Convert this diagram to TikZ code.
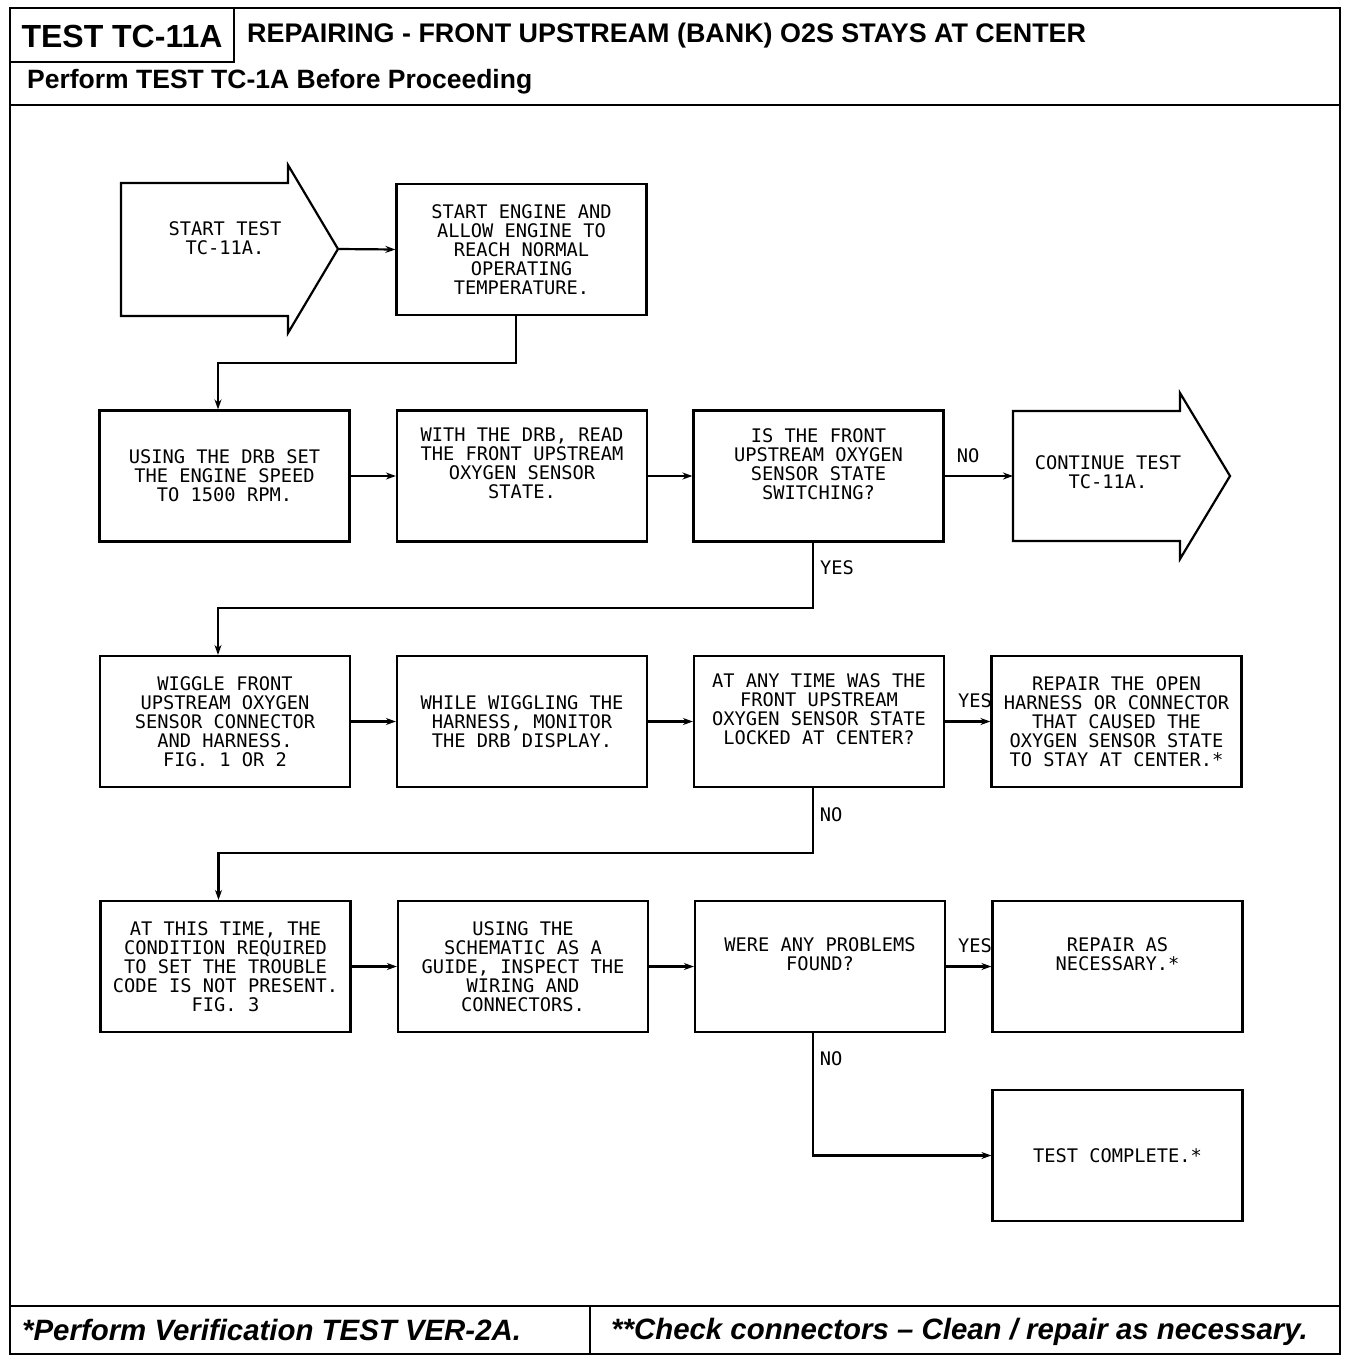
\documentclass[tikz,border=0pt]{standalone}
\usepackage{fontspec}
\setmainfont{Liberation Sans}
\newfontfamily\plotfont{DejaVu Sans Mono}
\usetikzlibrary{arrows.meta}
\begin{document}
\begin{tikzpicture}[x=1pt,y=-1pt,
  box/.style={draw, line width=2.2pt, minimum width=250pt, minimum height=131pt, inner sep=0pt, align=center, font=\plotfont\fontsize{18.7}{19}\selectfont},
  txt/.style={inner sep=0pt, align=center, font=\plotfont\fontsize{18.7}{19}\selectfont},
  lab/.style={inner sep=0pt, font=\plotfont\fontsize{18.7}{19}\selectfont},
  arr/.style={line width=2.2pt, -{Stealth[length=10pt,width=7pt]}},
  outline/.style={line width=2.2pt, line join=miter},
  frame/.style={line width=2pt},
  headbig/.style={inner sep=0pt, font=\bfseries\fontsize{32}{32}\selectfont},
  head/.style={anchor=west, inner sep=0pt, font=\bfseries\fontsize{26.9}{27}\selectfont},
  foot/.style={anchor=west, inner sep=0pt, font=\bfseries\itshape\fontsize{29.4}{30}\selectfont}]
\useasboundingbox (0,0) rectangle (1360,1364);
\fill[white] (0,0) rectangle (1360,1364);

% frame
\draw[frame] (10,8) rectangle (1340,1354);
\draw[frame] (10,105) -- (1340,105);
\draw[frame] (234,8) -- (234,62) -- (10,62);
\draw[frame] (10,1306) -- (1340,1306);
\draw[frame] (590,1306) -- (590,1354);

% headings
\node[headbig] (title) at (122,36) {TEST TC-11A};
\node[head] (heading) at (247,36) {REPAIRING - FRONT UPSTREAM (BANK) O2S STAYS AT CENTER};
\node[head, font=\bfseries\fontsize{26.5}{27}\selectfont] (pre) at (27,82) {Perform TEST TC-1A Before Proceeding};
\node[foot] (f1) at (22,1330) {*Perform Verification TEST VER-2A.};
\node[foot] (f2) at (611,1332) {**Check connectors – Clean / repair as necessary.};

% start arrow
\draw[outline] (121,183) -- (288,183) -- (288,165) -- (338,249) -- (288,333) -- (288,316) -- (121,316) -- cycle;
\coordinate (starttip) at (338,249);
\node[txt] (start) at (225,238) {START TEST\\TC-11A.};

% continue arrow
\draw[outline] (1013,411) -- (1180,411) -- (1180,393) -- (1230,476) -- (1180,559) -- (1180,541) -- (1013,541) -- cycle;
\coordinate (conttail) at (1013,476);
\node[txt] (cont) at (1108,472) {CONTINUE TEST\\TC-11A.};

% boxes
\node[box] (b1) at (521.5,249.5) {START ENGINE AND\\ALLOW ENGINE TO\\REACH NORMAL\\OPERATING\\TEMPERATURE.};

\node[box] (r2a) at (224.5,476) {USING THE DRB SET\\THE ENGINE SPEED\\TO 1500 RPM.};
\node[box] (r2b) at (522,476) {WITH THE DRB, READ\\THE FRONT UPSTREAM\\OXYGEN SENSOR\\STATE.\\\strut};
\node[box] (r2c) at (818.5,476) {IS THE FRONT\\UPSTREAM OXYGEN\\SENSOR STATE\\SWITCHING?\\\strut};

\node[box] (r3a) at (225,721.5) {WIGGLE FRONT\\UPSTREAM OXYGEN\\SENSOR CONNECTOR\\AND HARNESS.\\FIG. 1 OR 2};
\node[box] (r3b) at (522,721.5) {WHILE WIGGLING THE\\HARNESS, MONITOR\\THE DRB DISPLAY.};
\node[box] (r3c) at (819,721.5) {AT ANY TIME WAS THE\\FRONT UPSTREAM\\OXYGEN SENSOR STATE\\LOCKED AT CENTER?\\\strut};
\node[box] (r3d) at (1116.5,721.5) {REPAIR THE OPEN\\HARNESS OR CONNECTOR\\THAT CAUSED THE\\OXYGEN SENSOR STATE\\TO STAY AT CENTER.*};

\node[box] (r4a) at (225.5,966.5) {AT THIS TIME, THE\\CONDITION REQUIRED\\TO SET THE TROUBLE\\CODE IS NOT PRESENT.\\FIG. 3};
\node[box] (r4b) at (523,966.5) {USING THE\\SCHEMATIC AS A\\GUIDE, INSPECT THE\\WIRING AND\\CONNECTORS.};
\node[box] (r4c) at (820,966.5) {WERE ANY PROBLEMS\\FOUND?\\\strut};
\node[box] (r4d) at (1117.5,966.5) {REPAIR AS\\NECESSARY.*\\\strut};

\node[box] (r5) at (1117.5,1155.5) {TEST COMPLETE.*};

% connectors
\draw[arr] (starttip) -- (b1.west);
\draw[arr] ([xshift=-5.5pt]b1.south) -- ++(0,47) -| ([xshift=-6.5pt]r2a.north);

\draw[arr] (r2a.east) -- (r2b.west);
\draw[arr] (r2b.east) -- (r2c.west);
\draw[arr] (r2c.east) -- (conttail);
\node[lab] (no1) at (968,456) {NO};
\draw[arr] ([xshift=-5.5pt]r2c.south) -- ++(0,65) -| ([xshift=-7pt]r3a.north);
\node[lab] (yes1) at (837,568) {YES};

\draw[arr] (r3a.east) -- (r3b.west);
\draw[arr] (r3b.east) -- (r3c.west);
\draw[arr] (r3c.east) -- (r3d.west);
\node[lab] (yes2) at (975,701) {YES};
\draw[arr] ([xshift=-6pt]r3c.south) -- ++(0,65) -| ([xshift=-7pt]r4a.north);
\node[lab] (no2) at (831,815) {NO};

\draw[arr] (r4a.east) -- (r4b.west);
\draw[arr] (r4b.east) -- (r4c.west);
\draw[arr] (r4c.east) -- (r4d.west);
\node[lab] (yes3) at (975,946) {YES};
\draw[arr] ([xshift=-7pt]r4c.south) |- (r5.west);
\node[lab] (no3) at (831,1059) {NO};
\end{tikzpicture}
\end{document}
